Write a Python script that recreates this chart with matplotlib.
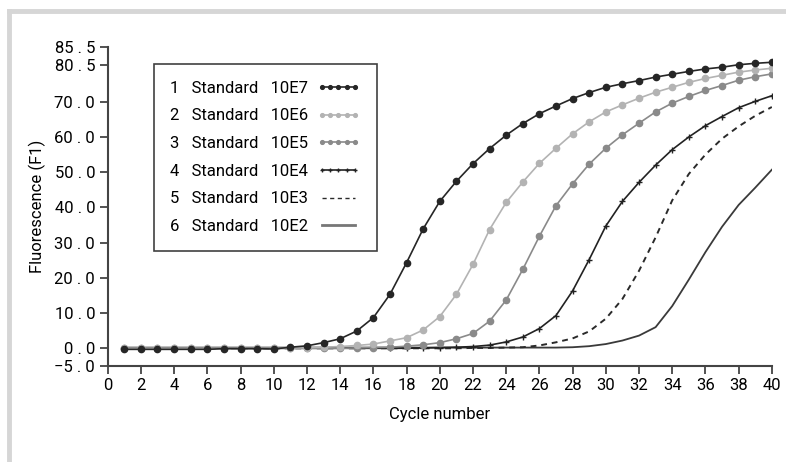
import matplotlib

matplotlib.use("Agg")
import matplotlib.pyplot as plt
from matplotlib.lines import Line2D

plt.rcParams["font.family"] = ["Liberation Sans Narrow", "Roboto", "DejaVu Sans"]

cycles = list(range(1, 41))

std_10e7 = [-0.3, -0.3, -0.3, -0.3, -0.3, -0.3, -0.1, -0.1, -0.1, -0.2,
            0.3, 0.7, 1.6, 2.7, 4.9, 8.7, 15.3, 24.3, 33.9, 41.7,
            47.4, 52.4, 56.7, 60.5, 63.8, 66.6, 68.8, 70.9, 72.6, 74.1,
            75.1, 76.0, 77.0, 77.8, 78.6, 79.3, 79.8, 80.5, 80.9, 81.2]
std_10e6 = [0.0, 0.0, 0.0, 0.0, 0.0, 0.0, 0.0, 0.0, 0.0, 0.0,
            0.1, 0.2, 0.3, 0.5, 0.8, 1.2, 2.1, 3.0, 5.2, 9.0,
            15.3, 23.8, 33.7, 41.4, 47.2, 52.5, 56.8, 60.9, 64.3, 67.1,
            69.1, 71.0, 72.7, 74.1, 75.5, 76.6, 77.5, 78.4, 79.0, 79.5]
std_10e5 = [0.0, 0.0, 0.0, 0.0, 0.0, 0.0, 0.0, 0.0, 0.0, 0.0,
            0.0, 0.0, 0.0, 0.0, 0.1, 0.2, 0.3, 0.6, 1.0, 1.6,
            2.7, 4.2, 7.7, 13.7, 22.4, 31.8, 40.5, 46.7, 52.3, 56.8,
            60.6, 63.9, 67.1, 69.6, 71.5, 73.2, 74.6, 76.1, 77.1, 77.9]
std_10e4 = [0.0, 0.0, 0.0, 0.0, 0.0, 0.0, 0.0, 0.0, 0.0, 0.0,
            0.0, 0.0, 0.0, 0.0, 0.0, 0.0, 0.0, 0.0, 0.1, 0.2,
            0.3, 0.5, 0.9, 1.8, 3.2, 5.6, 9.3, 16.3, 25.2, 34.7,
            41.7, 47.1, 52.0, 56.4, 60.0, 63.2, 65.8, 68.3, 70.1, 71.7]
std_10e3 = [0.0, 0.0, 0.0, 0.0, 0.0, 0.0, 0.0, 0.0, 0.0, 0.0,
            0.0, 0.0, 0.0, 0.0, 0.0, 0.0, 0.0, 0.0, 0.0, 0.0,
            0.0, 0.1, 0.1, 0.2, 0.3, 0.8, 1.7, 2.8, 4.8, 8.4,
            14.0, 22.0, 31.5, 42.0, 49.5, 55.0, 59.5, 63.0, 66.0, 68.5]
std_10e2 = [0.2, 0.2, 0.2, 0.2, 0.2, 0.2, 0.2, 0.2, 0.2, 0.2,
            0.2, 0.2, 0.2, 0.2, 0.2, 0.2, 0.2, 0.2, 0.2, 0.2,
            0.2, 0.2, 0.2, 0.2, 0.2, 0.2, 0.2, 0.3, 0.6, 1.2,
            2.2, 3.6, 6.0, 12.0, 19.5, 27.3, 34.5, 40.7, 45.6, 50.7]

labels = ["1   Standard   10E7", "2   Standard   10E6", "3   Standard   10E5",
          "4   Standard   10E4", "5   Standard   10E3", "6   Standard   10E2"]

y_ticks = [-5.0, 0.0, 10.0, 20.0, 30.0, 40.0, 50.0, 60.0, 70.0, 80.5, 85.5]
y_tick_labels = ["\u22125 . 0", "0 . 0", "10 . 0", "20 . 0", "30 . 0", "40 . 0",
                 "50 . 0", "60 . 0", "70 . 0", "80 . 5", "85 . 5"]
x_ticks = list(range(0, 41, 2))

fig = plt.figure(figsize=(7.86, 4.62), dpi=100)
fig.patch.set_facecolor("white")
ax = fig.add_axes([0.137, 0.208, 0.845, 0.69])

ax.plot(cycles, std_10e2, color="#3a3a3a", lw=1.3, label=labels[5], zorder=2)
ax.plot(cycles, std_10e3, color="#2a2a2a", lw=1.4, ls=(0, (3, 2.5)), label=labels[4], zorder=2)
ax.plot(cycles, std_10e4, color="#222222", lw=1.2, marker="+", ms=4, mew=1.0,
        label=labels[3], zorder=3)
ax.plot(cycles, std_10e5, color="#8a8a8a", lw=1.2, marker="o", ms=4.5,
        label=labels[2], zorder=3)
ax.plot(cycles, std_10e6, color="#b3b3b3", lw=1.2, marker="o", ms=4.5,
        label=labels[1], zorder=3)
ax.plot(cycles, std_10e7, color="#262626", lw=1.2, marker="o", ms=4.5,
        label=labels[0], zorder=4)

ax.set_xlim(0, 40)
ax.set_ylim(-5, 85.5)
ax.set_xticks(x_ticks)
ax.set_yticks(y_ticks)
ax.set_yticklabels(y_tick_labels)
ax.tick_params(axis="both", direction="out", length=6, width=1.3, color="#444444",
               labelsize=12, pad=3)
for side in ("top", "right"):
    ax.spines[side].set_visible(False)
for side in ("left", "bottom"):
    ax.spines[side].set_color("#444444")
    ax.spines[side].set_linewidth(1.5)
ax.set_xlabel("Cycle number", fontsize=12, labelpad=10)
ax.set_ylabel("Fluorescence (F1)", fontsize=12, labelpad=6)

handles, leg_labels = ax.get_legend_handles_labels()
leg = ax.legend(handles[::-1], leg_labels[::-1], loc="upper left",
                bbox_to_anchor=(0.069, 0.947), borderaxespad=0, fontsize=12,
                frameon=True, fancybox=False, numpoints=5, handlelength=2.6,
                labelspacing=0.76, borderpad=1.0, handletextpad=0.5,
                markerscale=0.6, markerfirst=False)
leg.get_frame().set_edgecolor("#111111")
leg.get_frame().set_linewidth(1.2)
# the last row (10E2) shows a thicker grey bar in the key
leg.legend_handles[-1].set_color("#777777")
leg.legend_handles[-1].set_linewidth(2.0)
leg.legend_handles[-2].set_linewidth(1.0)

# light grey frame around the figure
fig.add_artist(Line2D([0.011, 1.0], [0.976, 0.976], transform=fig.transFigure,
                      color="#d6d6d6", lw=3.5))
fig.add_artist(Line2D([0.011, 0.011], [0.0, 0.976], transform=fig.transFigure,
                      color="#d6d6d6", lw=3.5))

fig.savefig("out.png", dpi=100)
